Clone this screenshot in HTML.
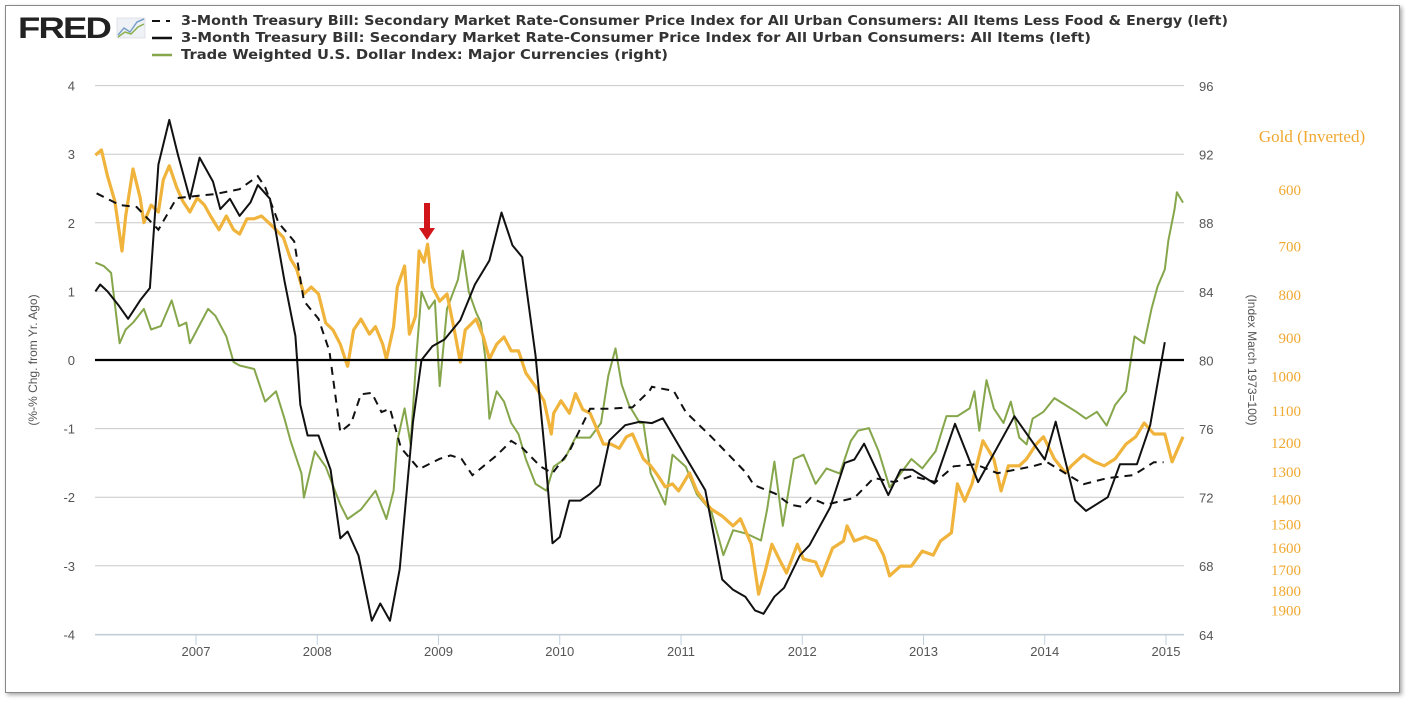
<!DOCTYPE html>
<html><head><meta charset="utf-8">
<style>
html,body{margin:0;padding:0;background:#fff;}
body{width:1408px;height:701px;overflow:hidden;position:relative;font-family:"Liberation Sans",sans-serif;}
#frame{position:absolute;left:5px;top:5px;width:1393px;height:686px;border:1px solid #888;box-shadow:2px 2px 4px rgba(0,0,0,0.35);background:#fff;}
svg{position:absolute;left:0;top:0;}
</style></head>
<body>
<div id="frame"></div>
<svg id="chart" width="1408" height="701"></svg>
<script>
const leftTicks=[4,3,2,1,0,-1,-2,-3,-4];
const rightTicks=[96,92,88,84,80,76,72,68,64];
const goldTicks=[600,700,800,900,1000,1100,1200,1300,1400,1500,1600,1700,1800,1900];
const yearTicks=[2007,2008,2009,2010,2011,2012,2013,2014,2015];

const cpiT=[2006.17,2006.21,2006.27,2006.36,2006.44,2006.54,2006.62,2006.69,2006.78,2006.85,2006.95,2007.03,2007.14,2007.20,2007.28,2007.36,2007.45,2007.51,2007.61,2007.73,2007.82,2007.86,2007.92,2008.01,2008.11,2008.19,2008.25,2008.34,2008.45,2008.52,2008.60,2008.68,2008.79,2008.86,2008.95,2009.05,2009.18,2009.30,2009.42,2009.52,2009.61,2009.69,2009.80,2009.88,2009.94,2010.00,2010.08,2010.17,2010.25,2010.33,2010.41,2010.54,2010.66,2010.76,2010.85,2010.99,2011.20,2011.34,2011.43,2011.53,2011.61,2011.68,2011.77,2011.85,2011.98,2012.06,2012.23,2012.35,2012.43,2012.51,2012.71,2012.81,2012.91,2013.09,2013.26,2013.45,2013.75,2014.00,2014.09,2014.25,2014.34,2014.52,2014.62,2014.76,2014.87,2014.99];
const cpiV=[1.0,1.1,1.0,0.8,0.6,0.87,1.05,2.85,3.5,3.0,2.35,2.95,2.6,2.2,2.35,2.1,2.3,2.55,2.35,1.15,0.35,-0.65,-1.1,-1.1,-1.6,-2.6,-2.5,-2.85,-3.8,-3.55,-3.8,-3.05,-0.9,0.0,0.2,0.3,0.58,1.1,1.45,2.15,1.67,1.5,0.07,-1.4,-2.67,-2.58,-2.05,-2.05,-1.95,-1.82,-1.17,-0.95,-0.9,-0.92,-0.85,-1.27,-1.9,-3.2,-3.35,-3.45,-3.65,-3.7,-3.45,-3.32,-2.85,-2.7,-2.15,-1.5,-1.45,-1.22,-1.97,-1.6,-1.6,-1.8,-0.93,-1.78,-0.82,-1.45,-0.9,-2.05,-2.2,-2.0,-1.52,-1.52,-0.95,0.26];

const coreT=[2006.18,2006.37,2006.51,2006.69,2006.84,2007.16,2007.36,2007.51,2007.57,2007.68,2007.81,2007.89,2008.01,2008.10,2008.19,2008.28,2008.36,2008.45,2008.53,2008.60,2008.69,2008.84,2009.01,2009.10,2009.19,2009.28,2009.48,2009.60,2009.69,2009.84,2009.94,2010.08,2010.25,2010.40,2010.60,2010.74,2010.76,2010.94,2011.04,2011.25,2011.54,2011.60,2011.78,2011.90,2012.00,2012.07,2012.20,2012.31,2012.43,2012.59,2012.76,2012.90,2013.10,2013.25,2013.43,2013.61,2013.90,2014.02,2014.32,2014.52,2014.73,2014.90,2014.98];
const coreV=[2.43,2.26,2.23,1.9,2.36,2.42,2.49,2.68,2.52,2.0,1.73,0.86,0.6,0.13,-1.05,-0.92,-0.5,-0.48,-0.76,-0.71,-1.28,-1.59,-1.44,-1.39,-1.44,-1.68,-1.39,-1.18,-1.28,-1.55,-1.65,-1.33,-0.71,-0.71,-0.69,-0.45,-0.39,-0.45,-0.76,-1.12,-1.65,-1.82,-1.95,-2.11,-2.14,-2.01,-2.11,-2.06,-2.01,-1.72,-1.78,-1.69,-1.78,-1.55,-1.52,-1.65,-1.55,-1.49,-1.81,-1.72,-1.68,-1.49,-1.49];

const usdT=[2006.17,2006.24,2006.30,2006.37,2006.42,2006.48,2006.57,2006.63,2006.71,2006.80,2006.86,2006.92,2006.95,2007.01,2007.10,2007.16,2007.25,2007.31,2007.36,2007.48,2007.57,2007.66,2007.73,2007.78,2007.87,2007.89,2007.98,2008.07,2008.19,2008.25,2008.36,2008.48,2008.57,2008.63,2008.66,2008.72,2008.77,2008.82,2008.86,2008.92,2008.97,2009.01,2009.07,2009.16,2009.20,2009.25,2009.31,2009.35,2009.39,2009.42,2009.48,2009.54,2009.60,2009.66,2009.72,2009.80,2009.89,2009.95,2010.04,2010.13,2010.25,2010.34,2010.40,2010.46,2010.51,2010.57,2010.66,2010.69,2010.75,2010.87,2010.93,2011.04,2011.13,2011.25,2011.35,2011.43,2011.54,2011.66,2011.71,2011.77,2011.84,2011.93,2012.01,2012.11,2012.20,2012.31,2012.40,2012.46,2012.55,2012.63,2012.72,2012.81,2012.90,2012.99,2013.10,2013.19,2013.28,2013.38,2013.42,2013.46,2013.52,2013.58,2013.66,2013.72,2013.79,2013.85,2013.90,2013.99,2014.08,2014.17,2014.26,2014.34,2014.43,2014.51,2014.58,2014.67,2014.74,2014.82,2014.88,2014.93,2014.99,2015.02,2015.07,2015.09,2015.14];
const usdV=[85.7,85.5,85.1,81.0,81.8,82.2,83.0,81.8,82.0,83.5,82.0,82.2,81.0,81.8,83.0,82.6,81.4,79.9,79.7,79.5,77.6,78.2,76.6,75.3,73.4,72.0,74.7,73.8,71.6,70.75,71.3,72.4,70.75,72.4,75.3,77.2,75.1,80.5,84.0,83.0,83.5,78.5,83.0,84.7,86.4,84.0,82.8,82.2,79.9,76.6,78.2,77.6,76.35,75.7,74.25,72.8,72.4,73.8,74.25,75.5,75.5,76.35,79.1,80.7,78.6,77.4,76.35,76.35,73.4,71.6,74.5,73.8,72.2,71.2,68.65,70.1,69.9,69.5,71.3,74.1,70.35,74.25,74.5,72.8,73.7,73.4,75.3,75.9,76.05,74.7,72.6,73.4,74.25,73.7,74.7,76.75,76.75,77.2,78.2,75.9,78.85,77.2,76.35,77.6,75.5,75.1,76.6,77.0,77.8,77.4,77.0,76.6,77.0,76.2,77.4,78.2,81.4,81.0,83.0,84.3,85.3,87.0,88.8,89.8,89.2];

const goldT=[2006.17,2006.22,2006.27,2006.33,2006.39,2006.42,2006.48,2006.54,2006.57,2006.63,2006.69,2006.73,2006.78,2006.84,2006.89,2006.95,2007.01,2007.07,2007.12,2007.19,2007.25,2007.31,2007.36,2007.42,2007.48,2007.54,2007.60,2007.66,2007.72,2007.78,2007.83,2007.89,2007.95,2008.01,2008.07,2008.13,2008.19,2008.25,2008.30,2008.36,2008.43,2008.48,2008.54,2008.57,2008.63,2008.66,2008.72,2008.76,2008.81,2008.84,2008.88,2008.91,2008.95,2009.01,2009.07,2009.13,2009.18,2009.22,2009.31,2009.37,2009.42,2009.48,2009.54,2009.60,2009.66,2009.72,2009.80,2009.87,2009.93,2009.95,2010.01,2010.08,2010.13,2010.19,2010.25,2010.31,2010.36,2010.42,2010.49,2010.55,2010.60,2010.69,2010.75,2010.81,2010.87,2010.93,2010.98,2011.07,2011.13,2011.19,2011.25,2011.34,2011.43,2011.49,2011.58,2011.64,2011.69,2011.75,2011.81,2011.87,2011.96,2012.01,2012.11,2012.16,2012.25,2012.34,2012.37,2012.43,2012.52,2012.61,2012.67,2012.72,2012.81,2012.90,2012.99,2013.08,2013.14,2013.23,2013.28,2013.34,2013.40,2013.49,2013.58,2013.64,2013.70,2013.79,2013.85,2013.93,2013.99,2014.08,2014.17,2014.22,2014.32,2014.41,2014.49,2014.58,2014.67,2014.75,2014.82,2014.90,2014.99,2015.05,2015.14];
const goldV=[547,539,579,620,711,646,568,615,658,627,639,585,563,597,620,639,615,627,646,671,646,671,679,651,651,646,658,671,685,727,747,800,785,800,866,883,918,975,883,857,893,875,918,956,875,785,741,893,850,711,733,698,785,816,800,883,964,883,857,900,956,918,900,935,935,993,1031,1072,1174,1109,1072,1109,1051,1098,1109,1161,1207,1207,1221,1183,1174,1257,1281,1316,1357,1346,1372,1306,1372,1411,1442,1470,1510,1481,1588,1821,1718,1588,1654,1718,1588,1654,1667,1732,1605,1574,1510,1574,1556,1574,1636,1732,1686,1686,1618,1636,1574,1539,1346,1411,1346,1196,1257,1372,1281,1281,1257,1207,1183,1257,1306,1281,1243,1267,1281,1257,1207,1183,1139,1174,1174,1267,1183];

const X0=95,X1=1184;
const xS=t=>196+(t-2007)*121.25;
const yL=v=>360-68.6*v;
const yR=d=>86+(96-d)*17.15;
const yG=g=>189+365*Math.log(g/600);
const NS='http://www.w3.org/2000/svg';
const svg=document.getElementById('chart');
function mk(tag,attrs,parent){const e=document.createElementNS(NS,tag);for(const k in attrs)e.setAttribute(k,attrs[k]);(parent||svg).appendChild(e);return e;}
function txt(s,attrs,parent){const e=mk('text',attrs,parent);e.textContent=s;return e;}

const grid=mk('g',{});


leftTicks.forEach((v,i)=>{
  const y=yL(v);
  if(v!==0){mk('line',{x1:X0,x2:X1,y1:y,y2:y,stroke:'#c8c8c8','stroke-width':1},grid);}
  const t=txt(String(v),{x:75,y:y+5,'text-anchor':'end','font-size':13,fill:'#555'});
  
  
});
rightTicks.forEach(d=>{
  const t=txt(String(d),{x:1199,y:yR(d)+5,'font-size':13,fill:'#555'});
  
  
});
goldTicks.forEach(g=>{
  const t=txt(String(g),{x:1301,y:yG(g)+6,'text-anchor':'end','font-size':15,fill:'#f0a830','font-family':'Liberation Serif, serif'});
  
  
});
const xa=mk('line',{x1:X0,x2:X1,y1:635,y2:635,stroke:'#c0d0e0','stroke-width':1});


yearTicks.forEach(yr=>{
  const x=xS(yr);
  mk('line',{x1:x,x2:x,y1:635,y2:645,stroke:'#c0d0e0'});
  const t=txt(String(yr),{x:x,y:656,'text-anchor':'middle','font-size':13,fill:'#555'});
  
  
});
const lt=txt('(%-% Chg. from Yr. Ago)',{x:0,y:0,transform:'translate(37,360) rotate(-90)','text-anchor':'middle','font-size':12,fill:'#555'});


const rt=txt('(Index March 1973=100)',{x:0,y:0,transform:'translate(1248,360) rotate(90)','text-anchor':'middle','font-size':12,fill:'#555'});


const gt=txt('Gold (Inverted)',{x:1312,y:142,'text-anchor':'middle','font-size':17,fill:'#f0a830','font-family':'Liberation Serif, serif'});



function path(T,V,yf){return T.map((t,i)=>(i?'L':'M')+xS(t).toFixed(1)+','+yf(V[i]).toFixed(1)).join(' ');}
const usd=mk('path',{d:path(usdT,usdV,yR),fill:'none',stroke:'#86a64b','stroke-width':2,'stroke-linejoin':'round'});


const gold=mk('path',{d:path(goldT,goldV,yG),fill:'none',stroke:'#f0b43c','stroke-width':3.2,'stroke-linejoin':'round'});


const core=mk('path',{d:path(coreT,coreV,yL),fill:'none',stroke:'#111','stroke-width':2,'stroke-dasharray':'8,6'});


const cpi=mk('path',{d:path(cpiT,cpiV,yL),fill:'none',stroke:'#111','stroke-width':2,'stroke-linejoin':'round'});


const zero=mk('line',{x1:X0,x2:X1,y1:yL(0),y2:yL(0),stroke:'#000','stroke-width':2.2});


const ar=mk('path',{d:'M424,203 L430,203 L430,228 L435,228 L427,240 L419,228 L424,228 Z',fill:'#d0151b'});



const logo=txt('FRED',{x:18,y:38,'font-size':30,'font-weight':'bold',fill:'#222','letter-spacing':'-1.5','textLength':92,'lengthAdjust':'spacingAndGlyphs'});


const ic=mk('g',{});


mk('rect',{x:117,y:18,width:28,height:20,fill:'#eef2f6',stroke:'#ccd','stroke-width':0.5},ic);
mk('polyline',{points:'118,35 124,28 130,32 137,22 144,19',fill:'none',stroke:'#7aa0c8','stroke-width':1.5},ic);
mk('polyline',{points:'118,37 125,32 131,34 138,27 144,24',fill:'none',stroke:'#8db04e','stroke-width':1.5},ic);
const legend=[
  ['3-Month Treasury Bill: Secondary Market Rate-Consumer Price Index for All Urban Consumers: All Items Less Food & Energy (left)','dash',25],
  ['3-Month Treasury Bill: Secondary Market Rate-Consumer Price Index for All Urban Consumers: All Items (left)','solid',42],
  ['Trade Weighted U.S. Dollar Index: Major Currencies (right)','green',59]
];
legend.forEach(([label,kind,y])=>{
  const g=mk('g',{});
  
  
  if(kind==='dash'){mk('line',{x1:152,x2:160,y1:y-4,y2:y-4,stroke:'#111','stroke-width':2},g);mk('line',{x1:166,x2:170,y1:y-4,y2:y-4,stroke:'#111','stroke-width':2},g);}
  else mk('line',{x1:152,x2:172,y1:y-4,y2:y-4,stroke:kind==='green'?'#86a64b':'#111','stroke-width':2.5},g);
  txt(label,{x:181,y:y,'font-size':13.5,'font-weight':'bold',fill:'#333','font-family':'DejaVu Sans, sans-serif','textLength':kind==='dash'?1047:(kind==='solid'?910:487),'lengthAdjust':'spacingAndGlyphs'},g);
});
</script>
</body></html>
